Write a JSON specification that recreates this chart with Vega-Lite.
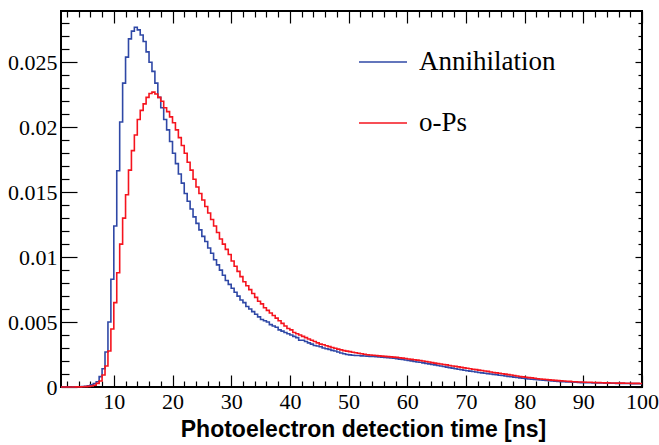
{
  "$schema": "https://vega.github.io/schema/vega-lite/v6.json",
  "autosize": {"type": "none"},
  "padding": {"left": 61, "top": 11, "right": 17, "bottom": 58},
  "width": 581,
  "height": 376,
  "background": "white",
  "config": {
    "font": "Liberation Serif",
    "view": {"stroke": "black", "strokeWidth": 2},
    "axis": {"domain": false, "grid": false, "tickColor": "black", "tickWidth": 1.2, "labelColor": "black", "labelFont": "Liberation Serif", "labelFontSize": 22, "labelFlush": false, "labelOverlap": false},
    "legend": {"labelFont": "Liberation Serif", "labelFontSize": 27, "labelColor": "black"}
  },
  "data": {"values": [
    {"t":1,"Annihilation":0,"o-Ps":0},
    {"t":1.5,"Annihilation":0,"o-Ps":0},
    {"t":2,"Annihilation":0,"o-Ps":0},
    {"t":2.5,"Annihilation":0,"o-Ps":0},
    {"t":3,"Annihilation":0.00001,"o-Ps":0},
    {"t":3.5,"Annihilation":0.00001,"o-Ps":0.00001},
    {"t":4,"Annihilation":0.00002,"o-Ps":0.00001},
    {"t":4.5,"Annihilation":0.00004,"o-Ps":0.00002},
    {"t":5,"Annihilation":0.00006,"o-Ps":0.00003},
    {"t":5.5,"Annihilation":0.0001,"o-Ps":0.00005},
    {"t":6,"Annihilation":0.00016,"o-Ps":0.00008},
    {"t":6.5,"Annihilation":0.00026,"o-Ps":0.00013},
    {"t":7,"Annihilation":0.0004,"o-Ps":0.00028},
    {"t":7.5,"Annihilation":0.0008,"o-Ps":0.00046},
    {"t":8,"Annihilation":0.0014,"o-Ps":0.00092},
    {"t":8.5,"Annihilation":0.0027,"o-Ps":0.00162},
    {"t":9,"Annihilation":0.005,"o-Ps":0.00277},
    {"t":9.5,"Annihilation":0.0083,"o-Ps":0.00447},
    {"t":10,"Annihilation":0.0124,"o-Ps":0.0065},
    {"t":10.5,"Annihilation":0.01665,"o-Ps":0.0088},
    {"t":11,"Annihilation":0.0204,"o-Ps":0.011},
    {"t":11.5,"Annihilation":0.0234,"o-Ps":0.013},
    {"t":12,"Annihilation":0.0254,"o-Ps":0.0148},
    {"t":12.5,"Annihilation":0.0268,"o-Ps":0.0167},
    {"t":13,"Annihilation":0.0274,"o-Ps":0.0182},
    {"t":13.5,"Annihilation":0.0277,"o-Ps":0.0194},
    {"t":14,"Annihilation":0.0275,"o-Ps":0.0206},
    {"t":14.5,"Annihilation":0.0271,"o-Ps":0.0213},
    {"t":15,"Annihilation":0.0266,"o-Ps":0.0218},
    {"t":15.5,"Annihilation":0.0258,"o-Ps":0.0223},
    {"t":16,"Annihilation":0.025,"o-Ps":0.0226},
    {"t":16.5,"Annihilation":0.0243,"o-Ps":0.0227},
    {"t":17,"Annihilation":0.0234,"o-Ps":0.02256},
    {"t":17.5,"Annihilation":0.0223,"o-Ps":0.0223},
    {"t":18,"Annihilation":0.0215,"o-Ps":0.022},
    {"t":18.5,"Annihilation":0.0206,"o-Ps":0.0215},
    {"t":19,"Annihilation":0.0198,"o-Ps":0.0212},
    {"t":19.5,"Annihilation":0.0189,"o-Ps":0.0208},
    {"t":20,"Annihilation":0.018,"o-Ps":0.02035},
    {"t":20.5,"Annihilation":0.0172,"o-Ps":0.0198},
    {"t":21,"Annihilation":0.0164,"o-Ps":0.0192},
    {"t":21.5,"Annihilation":0.0157,"o-Ps":0.0186},
    {"t":22,"Annihilation":0.0149,"o-Ps":0.018},
    {"t":22.5,"Annihilation":0.0143,"o-Ps":0.0173},
    {"t":23,"Annihilation":0.0137,"o-Ps":0.0167},
    {"t":23.5,"Annihilation":0.0131,"o-Ps":0.016},
    {"t":24,"Annihilation":0.0126,"o-Ps":0.0154},
    {"t":24.5,"Annihilation":0.0121,"o-Ps":0.0149},
    {"t":25,"Annihilation":0.0116,"o-Ps":0.0144},
    {"t":25.5,"Annihilation":0.0112,"o-Ps":0.0139},
    {"t":26,"Annihilation":0.0107,"o-Ps":0.0134},
    {"t":26.5,"Annihilation":0.0103,"o-Ps":0.0129},
    {"t":27,"Annihilation":0.0098,"o-Ps":0.0124},
    {"t":27.5,"Annihilation":0.0094,"o-Ps":0.0119},
    {"t":28,"Annihilation":0.009,"o-Ps":0.0114},
    {"t":28.5,"Annihilation":0.0086,"o-Ps":0.011},
    {"t":29,"Annihilation":0.0082,"o-Ps":0.0106},
    {"t":29.5,"Annihilation":0.0079,"o-Ps":0.0102},
    {"t":30,"Annihilation":0.0076,"o-Ps":0.0097},
    {"t":30.5,"Annihilation":0.0073,"o-Ps":0.0093},
    {"t":31,"Annihilation":0.007,"o-Ps":0.0089},
    {"t":31.5,"Annihilation":0.0067,"o-Ps":0.0085},
    {"t":32,"Annihilation":0.0065,"o-Ps":0.0081},
    {"t":32.5,"Annihilation":0.0062,"o-Ps":0.0078},
    {"t":33,"Annihilation":0.006,"o-Ps":0.0075},
    {"t":33.5,"Annihilation":0.0058,"o-Ps":0.0072},
    {"t":34,"Annihilation":0.0056,"o-Ps":0.0069},
    {"t":34.5,"Annihilation":0.0054,"o-Ps":0.0066},
    {"t":35,"Annihilation":0.0052,"o-Ps":0.0064},
    {"t":35.5,"Annihilation":0.0051,"o-Ps":0.0061},
    {"t":36,"Annihilation":0.005,"o-Ps":0.0059},
    {"t":36.5,"Annihilation":0.0048,"o-Ps":0.0057},
    {"t":37,"Annihilation":0.0047,"o-Ps":0.0055},
    {"t":37.5,"Annihilation":0.0046,"o-Ps":0.0053},
    {"t":38,"Annihilation":0.0044,"o-Ps":0.0051},
    {"t":38.5,"Annihilation":0.0043,"o-Ps":0.0049},
    {"t":39,"Annihilation":0.0042,"o-Ps":0.0047},
    {"t":39.5,"Annihilation":0.0041,"o-Ps":0.0045},
    {"t":40,"Annihilation":0.004,"o-Ps":0.0044},
    {"t":40.5,"Annihilation":0.0039,"o-Ps":0.0042},
    {"t":41,"Annihilation":0.0038,"o-Ps":0.0041},
    {"t":41.5,"Annihilation":0.0036,"o-Ps":0.004},
    {"t":42,"Annihilation":0.0036,"o-Ps":0.0039},
    {"t":42.5,"Annihilation":0.0035,"o-Ps":0.0038},
    {"t":43,"Annihilation":0.0034,"o-Ps":0.0037},
    {"t":43.5,"Annihilation":0.0033,"o-Ps":0.0036},
    {"t":44,"Annihilation":0.0032,"o-Ps":0.0035},
    {"t":44.5,"Annihilation":0.00316,"o-Ps":0.0034},
    {"t":45,"Annihilation":0.0031,"o-Ps":0.0033},
    {"t":45.5,"Annihilation":0.003,"o-Ps":0.00325},
    {"t":46,"Annihilation":0.00295,"o-Ps":0.00318},
    {"t":46.5,"Annihilation":0.0029,"o-Ps":0.00311},
    {"t":47,"Annihilation":0.00282,"o-Ps":0.00304},
    {"t":47.5,"Annihilation":0.00277,"o-Ps":0.00298},
    {"t":48,"Annihilation":0.0027,"o-Ps":0.00292},
    {"t":48.5,"Annihilation":0.00262,"o-Ps":0.00286},
    {"t":49,"Annihilation":0.00256,"o-Ps":0.0028},
    {"t":49.5,"Annihilation":0.0025,"o-Ps":0.00276},
    {"t":50,"Annihilation":0.00247,"o-Ps":0.00272},
    {"t":50.5,"Annihilation":0.00245,"o-Ps":0.00268},
    {"t":51,"Annihilation":0.00243,"o-Ps":0.00264},
    {"t":51.5,"Annihilation":0.00242,"o-Ps":0.0026},
    {"t":52,"Annihilation":0.0024,"o-Ps":0.00256},
    {"t":52.5,"Annihilation":0.00239,"o-Ps":0.00252},
    {"t":53,"Annihilation":0.00238,"o-Ps":0.00248},
    {"t":53.5,"Annihilation":0.00236,"o-Ps":0.00246},
    {"t":54,"Annihilation":0.00235,"o-Ps":0.00244},
    {"t":54.5,"Annihilation":0.00233,"o-Ps":0.00242},
    {"t":55,"Annihilation":0.00231,"o-Ps":0.0024},
    {"t":55.5,"Annihilation":0.00229,"o-Ps":0.00238},
    {"t":56,"Annihilation":0.00227,"o-Ps":0.00236},
    {"t":56.5,"Annihilation":0.00225,"o-Ps":0.00234},
    {"t":57,"Annihilation":0.00223,"o-Ps":0.00232},
    {"t":57.5,"Annihilation":0.00221,"o-Ps":0.0023},
    {"t":58,"Annihilation":0.00218,"o-Ps":0.00228},
    {"t":58.5,"Annihilation":0.00215,"o-Ps":0.00225},
    {"t":59,"Annihilation":0.00212,"o-Ps":0.00222},
    {"t":59.5,"Annihilation":0.00208,"o-Ps":0.00219},
    {"t":60,"Annihilation":0.00205,"o-Ps":0.00216},
    {"t":60.5,"Annihilation":0.00201,"o-Ps":0.00213},
    {"t":61,"Annihilation":0.00197,"o-Ps":0.0021},
    {"t":61.5,"Annihilation":0.00193,"o-Ps":0.00207},
    {"t":62,"Annihilation":0.0019,"o-Ps":0.00204},
    {"t":62.5,"Annihilation":0.00186,"o-Ps":0.002},
    {"t":63,"Annihilation":0.00182,"o-Ps":0.00196},
    {"t":63.5,"Annihilation":0.00178,"o-Ps":0.00192},
    {"t":64,"Annihilation":0.00174,"o-Ps":0.00188},
    {"t":64.5,"Annihilation":0.0017,"o-Ps":0.00184},
    {"t":65,"Annihilation":0.00166,"o-Ps":0.0018},
    {"t":65.5,"Annihilation":0.00162,"o-Ps":0.00177},
    {"t":66,"Annihilation":0.00158,"o-Ps":0.00173},
    {"t":66.5,"Annihilation":0.00153,"o-Ps":0.0017},
    {"t":67,"Annihilation":0.00149,"o-Ps":0.00166},
    {"t":67.5,"Annihilation":0.00145,"o-Ps":0.00162},
    {"t":68,"Annihilation":0.00141,"o-Ps":0.00159},
    {"t":68.5,"Annihilation":0.00137,"o-Ps":0.00155},
    {"t":69,"Annihilation":0.00133,"o-Ps":0.00151},
    {"t":69.5,"Annihilation":0.00129,"o-Ps":0.00147},
    {"t":70,"Annihilation":0.00125,"o-Ps":0.00144},
    {"t":70.5,"Annihilation":0.00122,"o-Ps":0.0014},
    {"t":71,"Annihilation":0.00119,"o-Ps":0.00137},
    {"t":71.5,"Annihilation":0.00116,"o-Ps":0.00134},
    {"t":72,"Annihilation":0.00112,"o-Ps":0.0013},
    {"t":72.5,"Annihilation":0.00109,"o-Ps":0.00127},
    {"t":73,"Annihilation":0.00106,"o-Ps":0.00123},
    {"t":73.5,"Annihilation":0.00103,"o-Ps":0.0012},
    {"t":74,"Annihilation":0.001,"o-Ps":0.00116},
    {"t":74.5,"Annihilation":0.00097,"o-Ps":0.00112},
    {"t":75,"Annihilation":0.00094,"o-Ps":0.00109},
    {"t":75.5,"Annihilation":0.00091,"o-Ps":0.00106},
    {"t":76,"Annihilation":0.00088,"o-Ps":0.00102},
    {"t":76.5,"Annihilation":0.00085,"o-Ps":0.00099},
    {"t":77,"Annihilation":0.00082,"o-Ps":0.00095},
    {"t":77.5,"Annihilation":0.00079,"o-Ps":0.00092},
    {"t":78,"Annihilation":0.00076,"o-Ps":0.00088},
    {"t":78.5,"Annihilation":0.00073,"o-Ps":0.00085},
    {"t":79,"Annihilation":0.0007,"o-Ps":0.00081},
    {"t":79.5,"Annihilation":0.00067,"o-Ps":0.00078},
    {"t":80,"Annihilation":0.00064,"o-Ps":0.00075},
    {"t":80.5,"Annihilation":0.00062,"o-Ps":0.00072},
    {"t":81,"Annihilation":0.0006,"o-Ps":0.0007},
    {"t":81.5,"Annihilation":0.00058,"o-Ps":0.00067},
    {"t":82,"Annihilation":0.00056,"o-Ps":0.00064},
    {"t":82.5,"Annihilation":0.00054,"o-Ps":0.00062},
    {"t":83,"Annihilation":0.00052,"o-Ps":0.0006},
    {"t":83.5,"Annihilation":0.0005,"o-Ps":0.00058},
    {"t":84,"Annihilation":0.00048,"o-Ps":0.00055},
    {"t":84.5,"Annihilation":0.00046,"o-Ps":0.00053},
    {"t":85,"Annihilation":0.00044,"o-Ps":0.00051},
    {"t":85.5,"Annihilation":0.00042,"o-Ps":0.00049},
    {"t":86,"Annihilation":0.00041,"o-Ps":0.00047},
    {"t":86.5,"Annihilation":0.0004,"o-Ps":0.00046},
    {"t":87,"Annihilation":0.00039,"o-Ps":0.00044},
    {"t":87.5,"Annihilation":0.00038,"o-Ps":0.00043},
    {"t":88,"Annihilation":0.00037,"o-Ps":0.00041},
    {"t":88.5,"Annihilation":0.00036,"o-Ps":0.0004},
    {"t":89,"Annihilation":0.00035,"o-Ps":0.00039},
    {"t":89.5,"Annihilation":0.00034,"o-Ps":0.00038},
    {"t":90,"Annihilation":0.00034,"o-Ps":0.00037},
    {"t":90.5,"Annihilation":0.00033,"o-Ps":0.00036},
    {"t":91,"Annihilation":0.00033,"o-Ps":0.00036},
    {"t":91.5,"Annihilation":0.00032,"o-Ps":0.00035},
    {"t":92,"Annihilation":0.00032,"o-Ps":0.00034},
    {"t":92.5,"Annihilation":0.00031,"o-Ps":0.00034},
    {"t":93,"Annihilation":0.00031,"o-Ps":0.00033},
    {"t":93.5,"Annihilation":0.0003,"o-Ps":0.00032},
    {"t":94,"Annihilation":0.0003,"o-Ps":0.00032},
    {"t":94.5,"Annihilation":0.00029,"o-Ps":0.00031},
    {"t":95,"Annihilation":0.00029,"o-Ps":0.00031},
    {"t":95.5,"Annihilation":0.00028,"o-Ps":0.0003},
    {"t":96,"Annihilation":0.00028,"o-Ps":0.0003},
    {"t":96.5,"Annihilation":0.00028,"o-Ps":0.0003},
    {"t":97,"Annihilation":0.00027,"o-Ps":0.00029},
    {"t":97.5,"Annihilation":0.00027,"o-Ps":0.00029},
    {"t":98,"Annihilation":0.00026,"o-Ps":0.00028},
    {"t":98.5,"Annihilation":0.00026,"o-Ps":0.00028},
    {"t":99,"Annihilation":0.00026,"o-Ps":0.00028},
    {"t":99.5,"Annihilation":0.00025,"o-Ps":0.00027},
    {"t":100,"Annihilation":0.00025,"o-Ps":0.00027}
  ]},
  "transform": [{"fold": ["Annihilation", "o-Ps"], "as": ["series", "value"]}],
  "resolve": {"axis": {"x": "independent", "y": "independent"}},
  "layer": [
    {
      "mark": {"type": "line", "interpolate": "step-after", "strokeWidth": 1.6},
      "encoding": {
        "x": {"field": "t", "type": "quantitative", "scale": {"domain": [1, 100], "nice": false, "zero": false},
          "axis": {"orient": "bottom", "values": [10,20,30,40,50,60,70,80,90,100], "format": "d", "tickSize": -12, "labelPadding": 16,
            "labelFont": "Liberation Serif", "labelFontSize": 22, "labelColor": "black",
            "title": "Photoelectron detection time [ns]", "titleFont": "Liberation Sans", "titleFontWeight": "bold", "titleFontSize": 23, "titleColor": "black", "titleX": 302, "titleY": 49, "titleAlign": "center", "titleBaseline": "alphabetic"}},
        "y": {"field": "value", "type": "quantitative", "scale": {"domain": [0, 0.02895], "nice": false},
          "axis": {"orient": "left", "values": [0, 0.005, 0.01, 0.015, 0.02, 0.025], "format": "~g", "tickSize": -16, "labelPadding": 20,
            "labelFont": "Liberation Serif", "labelFontSize": 22, "labelColor": "black", "title": null}},
        "color": {"field": "series", "type": "nominal", "scale": {"domain": ["Annihilation", "o-Ps"], "range": ["#2f48a6", "#f5141e"]},
          "legend": {"title": null, "orient": "none", "legendX": 297, "legendY": 26, "symbolType": "stroke", "symbolSize": 2304, "symbolStrokeWidth": 1.6, "labelOffset": 11, "rowPadding": 23, "padding": 0,
            "labelFont": "Liberation Serif", "labelFontSize": 27, "labelColor": "black"}}
      }
    },
    {
      "mark": {"type": "line", "opacity": 0},
      "encoding": {
        "x": {"field": "t", "type": "quantitative", "scale": {"domain": [1, 100], "nice": false, "zero": false},
          "axis": {"orient": "bottom", "values": [2,4,6,8,12,14,16,18,22,24,26,28,32,34,36,38,42,44,46,48,52,54,56,58,62,64,66,68,72,74,76,78,82,84,86,88,92,94,96,98], "tickSize": -6, "labels": false, "title": null}},
        "y": {"field": "value", "type": "quantitative", "scale": {"domain": [0, 0.02895], "nice": false},
          "axis": {"orient": "left", "values": [0.001,0.002,0.003,0.004,0.006,0.007,0.008,0.009,0.011,0.012,0.013,0.014,0.016,0.017,0.018,0.019,0.021,0.022,0.023,0.024,0.026,0.027,0.028], "tickSize": -8, "labels": false, "title": null}}
      }
    },
    {
      "mark": {"type": "line", "opacity": 0},
      "encoding": {
        "x": {"field": "t", "type": "quantitative", "scale": {"domain": [1, 100], "nice": false, "zero": false},
          "axis": {"orient": "top", "values": [10,20,30,40,50,60,70,80,90,100], "tickSize": -12, "labels": false, "title": null}},
        "y": {"field": "value", "type": "quantitative", "scale": {"domain": [0, 0.02895], "nice": false},
          "axis": {"orient": "right", "values": [0, 0.005, 0.01, 0.015, 0.02, 0.025], "tickSize": -7, "labels": false, "title": null}}
      }
    },
    {
      "mark": {"type": "line", "opacity": 0},
      "encoding": {
        "x": {"field": "t", "type": "quantitative", "scale": {"domain": [1, 100], "nice": false, "zero": false},
          "axis": {"orient": "top", "values": [2,4,6,8,12,14,16,18,22,24,26,28,32,34,36,38,42,44,46,48,52,54,56,58,62,64,66,68,72,74,76,78,82,84,86,88,92,94,96,98], "tickSize": -6, "labels": false, "title": null}},
        "y": {"field": "value", "type": "quantitative", "scale": {"domain": [0, 0.02895], "nice": false},
          "axis": {"orient": "right", "values": [0.001,0.002,0.003,0.004,0.006,0.007,0.008,0.009,0.011,0.012,0.013,0.014,0.016,0.017,0.018,0.019,0.021,0.022,0.023,0.024,0.026,0.027,0.028], "tickSize": -4, "labels": false, "title": null}}
      }
    }
  ]
}
